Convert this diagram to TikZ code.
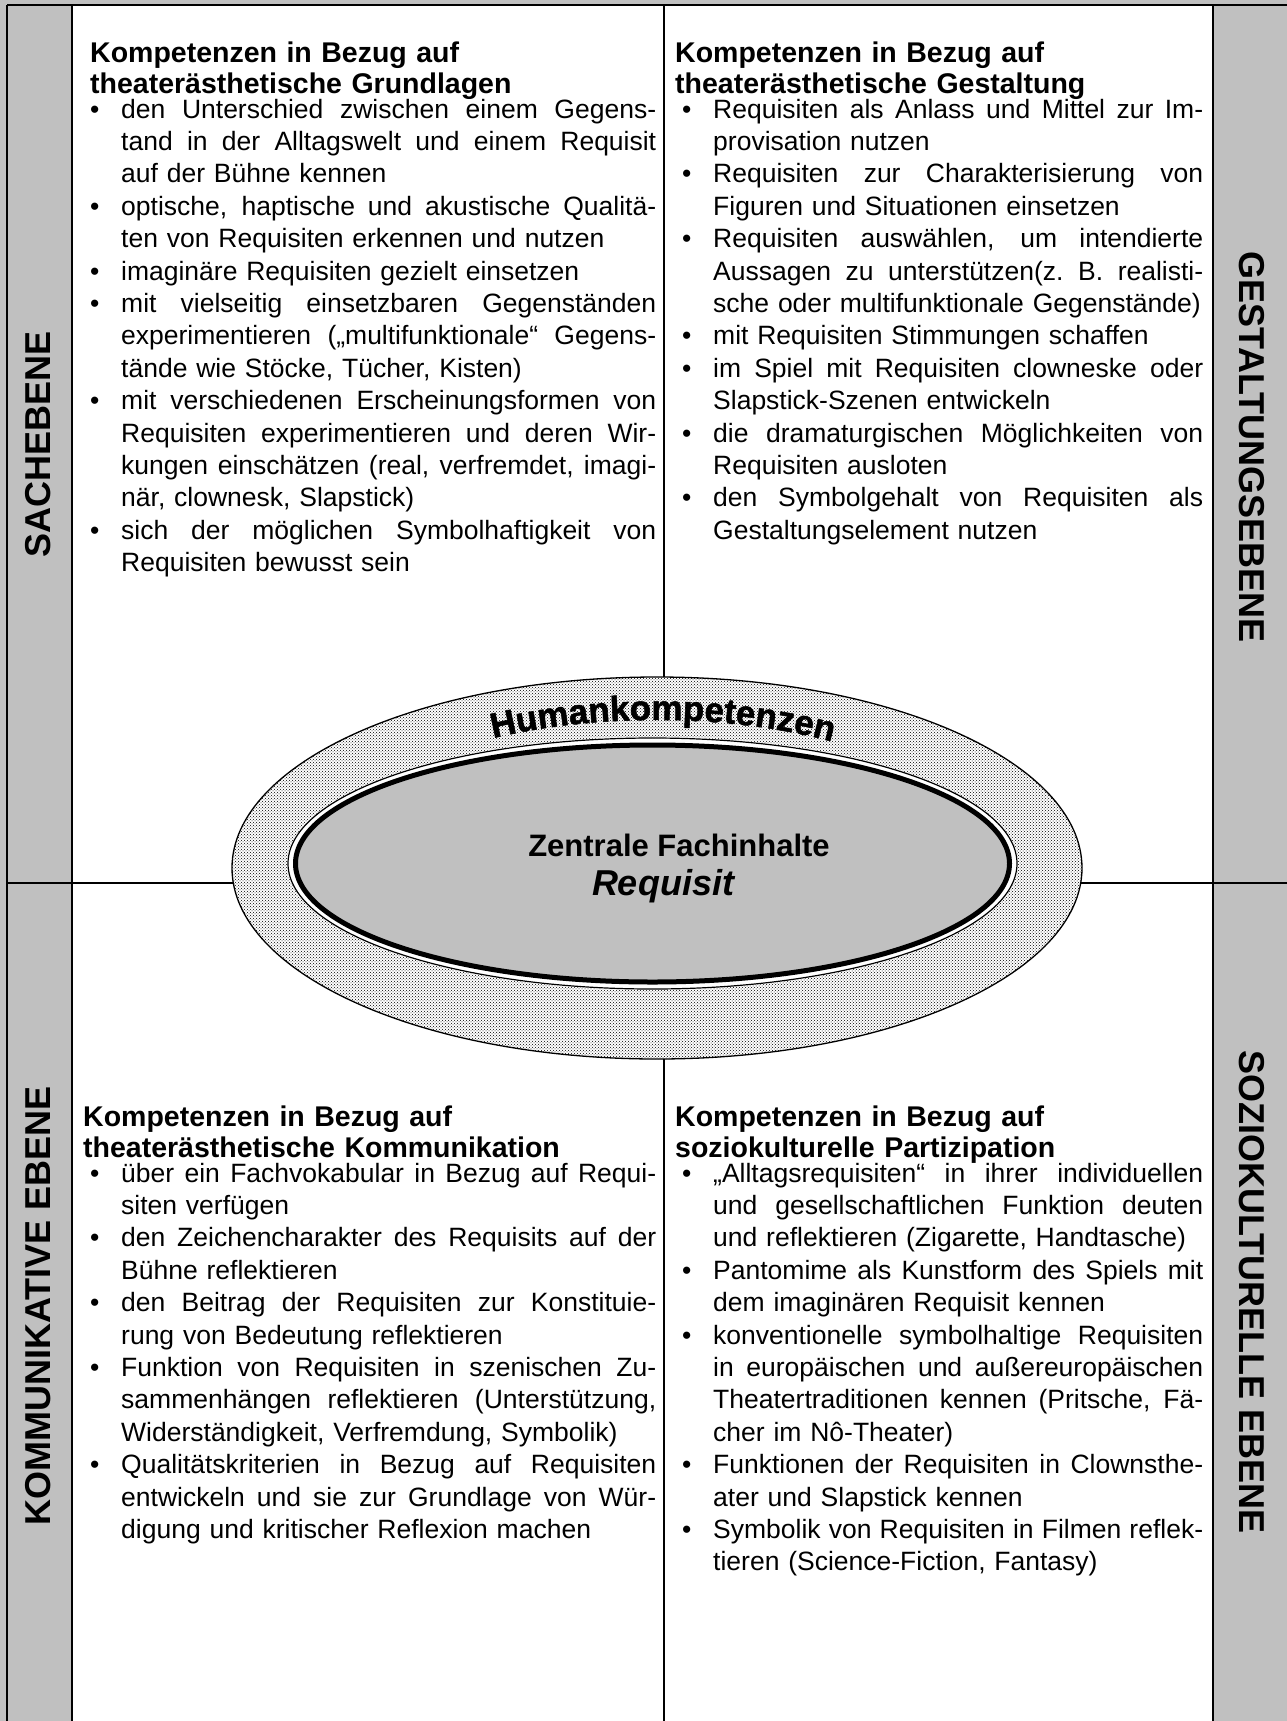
\documentclass[tikz,border=0pt]{standalone}
\usepackage{fontspec}
\setmainfont{Liberation Sans}
\newfontfamily\hkfont{Liberation Sans}[BoldFeatures={FakeBold=1.5}]
\usetikzlibrary{patterns,decorations.text}
\definecolor{panelgray}{HTML}{C0C0C0}
\newlength{\colw}
\newcommand{\jline}[1]{\leavevmode\hbox to \colw{\spaceskip=\fontdimen2\font plus 1fil\xspaceskip=\fontdimen2\font plus 1fil #1}}
\newcommand{\lline}[1]{\leavevmode\hbox to \colw{#1\hfil}}
\newcommand{\bul}{\llap{\textbullet\hspace{21.7pt}}}
\tikzset{
  body/.style={anchor=base west, inner sep=0pt, align=left, font=\fontsize{26.5}{32.4}\selectfont},
  head/.style={anchor=base west, inner sep=0pt, align=left, text width=560pt, font=\bfseries\fontsize{28.5}{31}\selectfont},
  side/.style={font=\bfseries\fontsize{36}{40}\selectfont, inner sep=0pt},
  rule/.style={line width=2pt, black},
}
\begin{document}
\begin{tikzpicture}[x=1pt,y=1pt]
\useasboundingbox (0,0) rectangle (1287,-1721);
% background and cells
\fill[panelgray] (0,0) rectangle (1287,-1721);
\fill[white] (72,-5) rectangle (1213,-1721);
% table rules
\draw[rule] (7,-5) -- (1287,-5);
\draw[rule] (7,-5) -- (7,-1721);
\draw[rule] (72,-5) -- (72,-1721);
\draw[rule] (664,-5) -- (664,-1721);
\draw[rule] (1213,-5) -- (1213,-1721);
\draw[rule] (7,-883) -- (1287,-883);

% side labels
\node[side, rotate=90] (sach) at (38,-444) {SACHEBENE};
\node[side, rotate=90] (komm) at (38,-1306) {KOMMUNIKATIVE EBENE};
\node[side, rotate=-90] (gest) at (1252,-447) {GESTALTUNGSEBENE};
\node[side, rotate=-90] (sozi) at (1252,-1292) {SOZIOKULTURELLE EBENE};

% top left
\node[head] (tlhead) at (90,-62) {Kompetenzen in Bezug auf\\theaterästhetische Grundlagen};
\node[body, text width=535pt] (tlbody) at (121,-118) {\setlength{\colw}{535pt}%
\jline{\bul den Unterschied zwischen einem Gegens-}\\
\jline{tand in der Alltagswelt und einem Requisit}\\
\lline{auf der Bühne kennen}\\
\jline{\bul optische, haptische und akustische Qualitä-}\\
\lline{ten von Requisiten erkennen und nutzen}\\
\lline{\bul imaginäre Requisiten gezielt einsetzen}\\
\jline{\bul mit vielseitig einsetzbaren Gegenständen}\\
\jline{experimentieren („multifunktionale“ Gegens-}\\
\lline{tände wie Stöcke, Tücher, Kisten)}\\
\jline{\bul mit verschiedenen Erscheinungsformen von}\\
\jline{Requisiten experimentieren und deren Wir-}\\
\jline{kungen einschätzen (real, verfremdet, imagi-}\\
\lline{när, clownesk, Slapstick)}\\
\jline{\bul sich der möglichen Symbolhaftigkeit von}\\
\lline{Requisiten bewusst sein}};

% top right
\node[head] (trhead) at (675,-62) {Kompetenzen in Bezug auf\\theaterästhetische Gestaltung};
\node[body, text width=490pt] (trbody) at (713,-118) {\setlength{\colw}{490pt}%
\jline{\bul Requisiten als Anlass und Mittel zur Im-}\\
\lline{provisation nutzen}\\
\jline{\bul Requisiten zur Charakterisierung von}\\
\lline{Figuren und Situationen einsetzen}\\
\jline{\bul Requisiten auswählen, um intendierte}\\
\jline{Aussagen zu unterstützen(z. B. realisti-}\\
\lline{sche oder multifunktionale Gegenstände)}\\
\lline{\bul mit Requisiten Stimmungen schaffen}\\
\jline{\bul im Spiel mit Requisiten clowneske oder}\\
\lline{Slapstick-Szenen entwickeln}\\
\jline{\bul die dramaturgischen Möglichkeiten von}\\
\lline{Requisiten ausloten}\\
\jline{\bul den Symbolgehalt von Requisiten als}\\
\lline{Gestaltungselement nutzen}};

% bottom left
\node[head] (blhead) at (83,-1126) {Kompetenzen in Bezug auf\\theaterästhetische Kommunikation};
\node[body, text width=535pt] (blbody) at (121,-1182) {\setlength{\colw}{535pt}%
\jline{\bul über ein Fachvokabular in Bezug auf Requi-}\\
\lline{siten verfügen}\\
\jline{\bul den Zeichencharakter des Requisits auf der}\\
\lline{Bühne reflektieren}\\
\jline{\bul den Beitrag der Requisiten zur Konstituie-}\\
\lline{rung von Bedeutung reflektieren}\\
\jline{\bul Funktion von Requisiten in szenischen Zu-}\\
\jline{sammenhängen reflektieren (Unterstützung,}\\
\lline{Widerständigkeit, Verfremdung, Symbolik)}\\
\jline{\bul Qualitätskriterien in Bezug auf Requisiten}\\
\jline{entwickeln und sie zur Grundlage von Wür-}\\
\lline{digung und kritischer Reflexion machen}};

% bottom right
\node[head] (brhead) at (675,-1126) {Kompetenzen in Bezug auf\\soziokulturelle Partizipation};
\node[body, text width=490pt] (brbody) at (713,-1182) {\setlength{\colw}{490pt}%
\jline{\bul „Alltagsrequisiten“ in ihrer individuellen}\\
\jline{und gesellschaftlichen Funktion deuten}\\
\lline{und reflektieren (Zigarette, Handtasche)}\\
\jline{\bul Pantomime als Kunstform des Spiels mit}\\
\lline{dem imaginären Requisit kennen}\\
\jline{\bul konventionelle symbolhaltige Requisiten}\\
\jline{in europäischen und außereuropäischen}\\
\jline{Theatertraditionen kennen (Pritsche, Fä-}\\
\lline{cher im Nô-Theater)}\\
\jline{\bul Funktionen der Requisiten in Clownsthe-}\\
\lline{ater und Slapstick kennen}\\
\jline{\bul Symbolik von Requisiten in Filmen reflek-}\\
\lline{tieren (Science-Fiction, Fantasy)}};

% central ellipses
\fill[white] (657,-868) ellipse [x radius=425, y radius=191];
\fill[pattern=crosshatch dots, pattern color=black] (657,-868) ellipse [x radius=425, y radius=191];
\draw[line width=1.3pt] (657,-868) ellipse [x radius=425, y radius=191];
\fill[white] (652.5,-863.5) ellipse [x radius=365.5, y radius=126.5];
\draw[line width=1.2pt] (652.5,-863.5) ellipse [x radius=364.5, y radius=125.5];
\draw[line width=5pt, fill=panelgray] (652.5,-863.5) ellipse [x radius=357, y radius=118.5];

\path[decorate, decoration={text along path, text align=center,
  text={|\hkfont\bfseries\fontsize{35}{35}\selectfont|Humankompetenzen}}]
  (656,-860) ++(150:330 and 140) arc[start angle=150, end angle=26, x radius=330, y radius=140];

\node[font=\bfseries\fontsize{31}{31}\selectfont, inner sep=0pt] (zf) at (679,-845) {Zentrale Fachinhalte};
\node[font=\bfseries\itshape\fontsize{36}{36}\selectfont, inner sep=0pt] (req) at (663,-886) {Requisit};
\end{tikzpicture}
\end{document}
